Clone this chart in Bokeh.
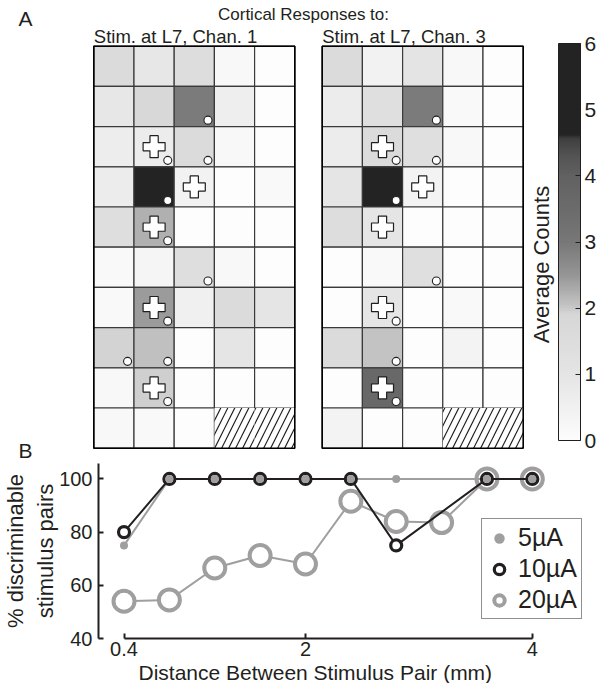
import numpy as np
from bokeh.plotting import figure
from bokeh.models import (Range1d, LinearColorMapper, ColorBar, FixedTicker, Label, Title,
                          Legend, LegendItem, ColumnDataSource, NumeralTickFormatter)
from bokeh.layouts import column
from bokeh.embed import file_html
from bokeh.resources import INLINE

# ---------------- Panel A data ----------------
N_ROWS, N_COLS = 10, 5
# average counts per electrode cell (row 0 = top); None = no electrode (hatched)
chan1_counts = [
    [1.60, 0.90, 1.50, 0.20, 0.00],
    [0.90, 1.85, 2.95, 0.60, 0.00],
    [0.65, 0.70, 1.60, 0.20, 0.00],
    [0.70, 5.30, 0.45, 0.00, 0.15],
    [1.40, 2.24, 0.00, 0.00, 0.00],
    [0.15, 0.35, 1.40, 0.20, 0.00],
    [0.15, 2.45, 0.55, 1.60, 1.00],
    [1.94, 2.08, 0.00, 1.00, 0.00],
    [0.20, 1.96, 0.00, 0.00, 0.00],
    [0.20, 0.15, 0.00, None, None],
]
chan3_counts = [
    [1.60, 0.45, 1.05, 0.20, 0.00],
    [0.70, 1.35, 2.95, 0.15, 0.00],
    [0.70, 1.60, 1.35, 0.20, 0.00],
    [1.00, 5.30, 0.40, 0.00, 0.00],
    [1.50, 1.00, 0.00, 0.00, 0.00],
    [0.00, 0.15, 1.35, 0.00, 0.00],
    [0.00, 1.00, 0.00, 0.15, 0.00],
    [1.60, 2.05, 0.00, 0.40, 0.00],
    [0.00, 3.70, 0.00, 0.00, 0.00],
    [0.40, 0.00, 0.00, None, None],
]
# stimulation sites (row, col) -> plus markers
stim_sites = [(2, 1), (3, 2), (4, 1), (6, 1), (8, 1)]
# significant-response sites (row, col) -> small circles
chan1_sig = [(1, 2), (2, 1), (2, 2), (3, 1), (4, 1), (5, 2), (6, 1), (7, 0), (7, 1), (8, 1)]
chan3_sig = [(1, 2), (2, 1), (2, 2), (3, 1), (5, 2), (6, 1), (7, 1), (8, 1)]
panel_titles = ["Stim. at L7, Chan. 1", "Stim. at L7, Chan. 3"]
cbar_ticks = [0, 1, 2, 3, 4, 5, 6]

# ---------------- Panel B data ----------------
distance_mm = [0.4, 0.8, 1.2, 1.6, 2.0, 2.4, 2.8, 3.2, 3.6, 4.0]
pct_5uA = [75, 100, 100, 100, 100, 100, 100, None, 100, 100]
pct_10uA = [80, 100, 100, 100, 100, 100, 75, None, 100, 100]
pct_20uA = [54, 54.5, 66.5, 71.2, 68, 91.6, 84, 83.6, 100, 100]
x_ticks = [0.4, 2, 4]
y_ticks = [40, 60, 80, 100]

# ---------------- style ----------------
FONT = "Liberation Sans"
BLACK = "#231f20"
GRAY = "#9f9f9f"
# colormap anchors (value -> gray level), custom MATLAB-like gray map
cm_vals = [0, 1.0, 1.9, 2.05, 2.5, 3.0, 3.5, 4.0, 4.3, 4.58, 4.62, 6]
cm_gray = [253, 229, 215, 195, 150, 120, 108, 98, 85, 62, 35, 35]
lv = np.interp(np.linspace(0, 6, 256), cm_vals, cm_gray)
palette = ["#%02x%02x%02x" % (int(g), int(g), int(g)) for g in lv]
mapper = LinearColorMapper(palette=palette, low=0, high=6)

# ---------------- Figure A ----------------
HA = 462
CELL = 40.2
G1_LEFT = 93.3
G_TOP = 45.7
G2_OFF = 228.4 / CELL
pA = figure(width=597, height=HA, output_backend="svg", toolbar_location=None,
            x_range=Range1d(-G1_LEFT / CELL, (597 - G1_LEFT) / CELL),
            y_range=Range1d((HA - G_TOP) / CELL, -G_TOP / CELL),
            x_axis_location=None, y_axis_location=None,
            min_border=0, min_border_left=0, min_border_right=0,
            min_border_top=0, min_border_bottom=0, frame_align=False)
pA.outline_line_color = None
pA.grid.visible = False

for counts, sig, off in [(chan1_counts, chan1_sig, 0.0), (chan3_counts, chan3_sig, G2_OFF)]:
    xs, ys, vs, hx, hy = [], [], [], [], []
    for r, row in enumerate(counts):
        for c, v in enumerate(row):
            if v is None:
                hx.append(c + 0.5 + off); hy.append(r + 0.5)
            else:
                xs.append(c + 0.5 + off); ys.append(r + 0.5); vs.append(v)
    src = ColumnDataSource(dict(x=xs, y=ys, v=vs))
    pA.rect("x", "y", width=1, height=1, source=src,
            fill_color={"field": "v", "transform": mapper},
            line_color="#3a3a3a", line_width=1.2)
    pA.rect(hx, hy, width=1, height=1, fill_color="white", line_color=None,
            hatch_pattern="/", hatch_color=BLACK, hatch_scale=14, hatch_weight=1.2)
    pA.rect([off + N_COLS / 2], [N_ROWS / 2], width=N_COLS, height=N_ROWS,
            fill_color=None, line_color="black", line_width=1.6)
    pA.scatter([c + 0.5 + off for r, c in stim_sites], [r + 0.5 for r, c in stim_sites],
               marker="plus", size=22, fill_color="white", line_color=BLACK, line_width=1.2)
    pA.scatter([c + 0.5 + off + 0.34 for r, c in sig], [r + 0.5 + 0.34 for r, c in sig],
               marker="circle", size=8, fill_color="white", line_color=BLACK, line_width=1.1)

def lab(text, x, y, size, align="left"):
    # y = page y (from top) of the text's vertical middle
    pA.add_layout(Label(x=x, y=HA - y, x_units="screen", y_units="screen", text=text,
                        text_font=FONT, text_font_size=size, text_color=BLACK,
                        text_align=align, text_baseline="middle"))

lab("A", 18, 17.5, "21px")
lab("B", 18, 450, "21px")
lab("Cortical Responses to:", 303, 14, "17px", "center")
lab(panel_titles[0], G1_LEFT, 35.5, "18.5px")
lab(panel_titles[1], G1_LEFT + 228.4, 35.5, "18.5px")
pA.add_layout(Label(x=541, y=HA - 264, x_units="screen", y_units="screen", text="Average Counts",
                    text_font=FONT, text_font_size="22px", text_color=BLACK,
                    text_align="center", text_baseline="middle", angle=np.pi / 2))

cb = ColorBar(color_mapper=mapper, location=(558, HA - 440), width=22, height=397,
              padding=0, margin=0, ticker=FixedTicker(ticks=cbar_ticks),
              major_label_text_font=FONT, major_label_text_font_size="21px",
              major_label_text_color=BLACK, label_standoff=4,
              major_tick_in=5, major_tick_out=0, major_tick_line_color=BLACK,
              minor_tick_line_color=None, bar_line_color=BLACK, bar_line_width=1,
              border_line_color=None, background_fill_alpha=0)
pA.add_layout(cb)

# ---------------- Figure B ----------------
HB = 683 - HA
pB = figure(width=597, height=HB, output_backend="svg", toolbar_location=None,
            x_range=Range1d(0.175, 4.513), y_range=Range1d(40, 105.8),
            min_border_left=97, min_border_right=7, min_border_top=1, min_border_bottom=0,
            frame_align=False)
pB.outline_line_color = None
pB.grid.visible = False

def pts(ys):
    return [x for x, y in zip(distance_mm, ys) if y is not None], [y for y in ys if y is not None]

x20, y20 = pts(pct_20uA)
x5, y5 = pts(pct_5uA)
x10, y10 = pts(pct_10uA)
pB.line(x20, y20, line_color=GRAY, line_width=2)
r20 = pB.scatter(x20, y20, marker="circle", size=21, fill_color="white", line_color=GRAY, line_width=4)
pB.line(x5, y5, line_color=GRAY, line_width=2)
pB.line(x10, y10, line_color=BLACK, line_width=2)
r10 = pB.scatter(x10, y10, marker="circle", size=11, fill_color="white", line_color=BLACK, line_width=3.2)
r5 = pB.scatter(x5, y5, marker="circle", size=8, fill_color=GRAY, line_color=None)

for ax in (pB.xaxis[0], pB.yaxis[0]):
    ax.axis_line_color = BLACK
    ax.axis_line_width = 2
    ax.major_tick_line_color = BLACK
    ax.major_tick_line_width = 2
    ax.major_tick_in = 5
    ax.major_tick_out = 0
    ax.minor_tick_line_color = None
    ax.major_label_text_font = FONT
    ax.major_label_text_font_size = "20px"
    ax.major_label_text_color = BLACK
    ax.axis_label_text_font = FONT
    ax.axis_label_text_font_size = "22px"
    ax.axis_label_text_font_style = "normal"
    ax.axis_label_text_color = BLACK

pB.xaxis.ticker = FixedTicker(ticks=x_ticks)
pB.xaxis.formatter = NumeralTickFormatter(format="0.[0]")
pB.xaxis.bounds = (x_ticks[0], x_ticks[-1])
pB.xaxis.major_label_standoff = 3
pB.yaxis.ticker = FixedTicker(ticks=y_ticks)
pB.yaxis.major_label_standoff = 6
pB.yaxis.axis_label = "% discriminable\nstimulus pairs"
pB.yaxis.axis_label_standoff = -2

# x-axis title, under the MATLAB-style axis extent
pB.add_layout(Title(text="Distance Between Stimulus Pair (mm)", align="left", offset=40,
                    text_font=FONT, text_font_size="21px", text_font_style="normal",
                    text_color=BLACK, standoff=0), "below")

legend = Legend(items=[LegendItem(label="5\u00b5A", renderers=[r5]),
                       LegendItem(label="10\u00b5A", renderers=[r10]),
                       LegendItem(label="20\u00b5A", renderers=[r20])],
                location=(383, 19), orientation="vertical",
                label_text_font=FONT, label_text_font_size="25px", label_text_color=BLACK,
                label_standoff=6, glyph_width=26, glyph_height=26, label_height=26,
                spacing=2, padding=4, margin=0,
                border_line_color=BLACK, border_line_width=1, background_fill_alpha=1)
pB.add_layout(legend)

layout = column(pA, pB, spacing=0)
open("out.html", "w").write(file_html(layout, INLINE))
